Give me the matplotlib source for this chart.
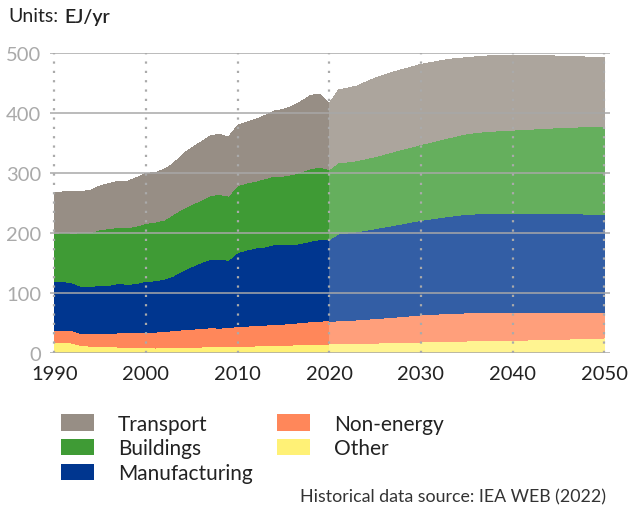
import numpy as np
import matplotlib
matplotlib.use("Agg")
import matplotlib.pyplot as plt
from matplotlib.patches import Patch

plt.rcParams['font.family'] = ['Lato', 'DejaVu Sans']

# historical data 1990-2020 (EJ/yr)
hist_years = list(range(1990, 2021))
hist_other = [16.6, 17.2, 16.0, 11.6, 11.0, 10.5, 10.0, 9.4, 9.4, 8.9, 8.3, 7.8, 8.3, 8.9, 8.9, 9.4,
              9.4, 10.0, 10.0, 10.0, 10.5, 10.8, 11.2, 11.5, 11.8, 12.2, 12.8, 13.3, 13.8, 14.4, 14.5]
hist_nonenergy = [20.0, 19.8, 20.6, 20.0, 20.6, 21.1, 21.6, 23.8, 23.8, 24.9, 25.5, 26.5, 27.2, 27.7, 29.3, 29.9,
                  30.5, 31.5, 31.0, 31.5, 33.3, 33.5, 34.2, 34.5, 35.2, 35.4, 36.0, 37.1, 37.7, 38.2, 39.0]
hist_manufacturing = [82.0, 81.6, 79.7, 78.6, 78.6, 80.9, 80.9, 82.0, 80.8, 81.4, 85.2, 85.4, 86.9, 91.4, 98.1, 104.2,
                      110.1, 114.2, 114.7, 112.5, 123.0, 126.9, 129.1, 130.2, 133.0, 131.9, 131.2, 131.9, 134.5, 135.8, 134.8]
hist_buildings = [79.7, 82.4, 82.7, 89.8, 89.8, 93.0, 94.1, 94.2, 94.3, 95.8, 96.5, 98.0, 98.6, 102.5, 103.7, 103.5,
                  104.0, 106.3, 108.0, 107.0, 111.5, 111.8, 111.5, 113.8, 114.4, 114.9, 117.0, 119.4, 120.7, 121.0, 117.2]
hist_transport = [68.2, 67.0, 69.0, 69.0, 70.5, 72.5, 75.4, 76.6, 77.7, 81.0, 83.5, 82.3, 84.5, 85.0, 90.5, 94.7,
                  97.0, 99.0, 100.3, 98.4, 100.7, 101.4, 103.0, 105.5, 108.4, 111.1, 114.0, 117.7, 122.3, 121.6, 110.1]

# projection 2020-2050
proj_years = [2020, 2021, 2022, 2023, 2025, 2027, 2030, 2033, 2035, 2037, 2040, 2045, 2050]
proj_other = [14.5, 14.8, 15.1, 15.4, 16.0, 16.7, 17.8, 18.8, 19.5, 20.0, 20.6, 22.3, 24.5]
proj_nonenergy = [37.9, 38.2, 38.7, 39.2, 40.8, 42.3, 45.2, 46.5, 46.8, 46.9, 46.8, 45.1, 41.8]
proj_manufacturing = [135.9, 144.8, 145.6, 146.9, 149.9, 153.0, 157.6, 161.7, 164.3, 164.9, 164.9, 164.4, 164.3]
proj_buildings = [117.2, 118.9, 118.6, 118.5, 120.0, 123.0, 126.4, 131.0, 134.4, 136.7, 138.7, 143.2, 147.2]
proj_transport = [110.1, 121.1, 123.0, 124.4, 131.1, 132.8, 133.6, 130.9, 126.7, 125.9, 124.6, 119.4, 113.9]

labels = ['Other', 'Non-energy', 'Manufacturing', 'Buildings', 'Transport']
colors = ['#fff176', '#ff875a', '#00368f', '#3f9b35', '#978e85']


def lighten(c, a=0.8):
    rgb = np.array(matplotlib.colors.to_rgb(c))
    return tuple(rgb * a + (1 - a))


proj_colors = [lighten(c) for c in colors]

fig = plt.figure(figsize=(6.29, 5.10), dpi=100)
ax = fig.add_axes([49.7 / 629, 1 - 353.7 / 510, 560.1 / 629, 300 / 510])

ax.stackplot(hist_years, hist_other, hist_nonenergy, hist_manufacturing, hist_buildings, hist_transport,
             colors=colors, linewidth=0, antialiased=False, zorder=1)
ax.stackplot(proj_years, proj_other, proj_nonenergy, proj_manufacturing, proj_buildings, proj_transport,
             colors=proj_colors, linewidth=0, antialiased=False, zorder=1)

ax.set_xlim(1989.5, 2050.6)
ax.set_ylim(0, 500)

# grid on top of areas
for v in range(0, 501, 100):
    ax.axhline(v, color='#a8a8a8', lw=1.1, zorder=3)
for yr in range(1990, 2051, 10):
    ax.plot([yr, yr], [0, 500], color='#aaaaaa', lw=1.6, linestyle=(0, (1, 3.2)), zorder=3)

for s in ax.spines.values():
    s.set_visible(False)
ax.set_xticks(range(1990, 2051, 10))
ax.set_yticks(range(0, 501, 100))
ax.tick_params(length=0)
ax.tick_params(axis='y', labelsize=14.5, labelcolor='#aaaaaa', pad=6)
ax.tick_params(axis='x', labelsize=14.5, labelcolor='#222222', pad=9)

fig.text(8 / 629, 1 - 17 / 510, 'Units:', fontsize=14, color='#222222', va='center', ha='left')
fig.text(64 / 629, 1 - 17 / 510, 'EJ/yr', fontsize=14, color='#222222', va='center', ha='left',
         fontweight='semibold')

handles = [Patch(facecolor=colors[4], label='Transport'),
           Patch(facecolor=colors[3], label='Buildings'),
           Patch(facecolor=colors[2], label='Manufacturing'),
           Patch(facecolor=colors[1], label='Non-energy'),
           Patch(facecolor=colors[0], label='Other')]
fig.legend(handles=handles, ncol=2, loc='upper left', bbox_to_anchor=(44 / 629, 1 - 398 / 510),
           frameon=False, fontsize=15, handlelength=1.6, handleheight=0.82, handletextpad=1.15,
           labelspacing=0.22, columnspacing=1.15, borderpad=0.3, labelcolor='#222222')

fig.text(606 / 629, 1 - 497 / 510, 'Historical data source: IEA WEB (2022)', fontsize=12.8,
         color='#333333', ha='right', va='center')

fig.savefig('out.png', dpi=100)
